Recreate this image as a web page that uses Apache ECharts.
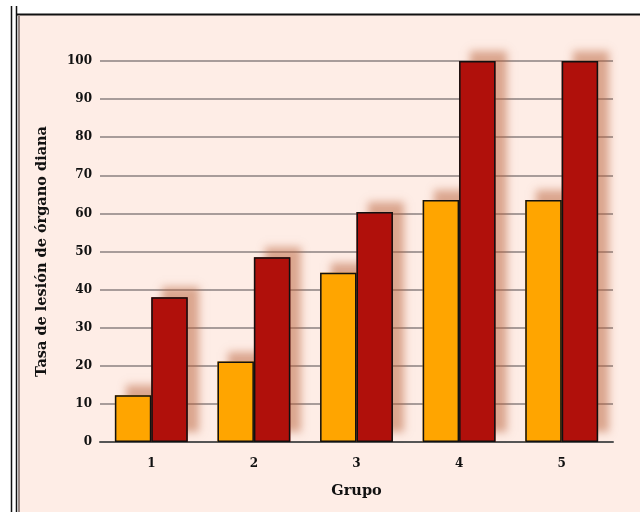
<!DOCTYPE html>
<html>
<head>
<meta charset="utf-8">
<script src="https://cdn.jsdelivr.net/npm/echarts@6/dist/echarts.min.js"></script>
<style>
html,body{margin:0;padding:0;background:#fff;}
#c{width:640px;height:512px;}
</style>
</head>
<body>
<div id="c"></div>
<script>
var categories = ['1', '2', '3', '4', '5'];
var serieA = [12.3, 21.1, 44.4, 63.5, 63.5];
var serieB = [38.0, 48.5, 60.4, 100, 100];
var yTitle = 'Tasa de lesión de órgano diana';
var xTitle = 'Grupo';

var FONT = '"DejaVu Serif", serif';
var chart = echarts.init(document.getElementById('c'));
var shadow = {shadowBlur: 8, shadowOffsetX: 11, shadowOffsetY: -10, shadowColor: 'rgba(185,95,55,0.5)'};
function barSeries(data, color, axisIdx, withShadow) {
  var st = {color: color};
  if (withShadow) { Object.assign(st, shadow); st.borderWidth = 0; }
  else { st.borderColor = '#111'; st.borderWidth = 1.5; }
  return {type: 'bar', data: data, xAxisIndex: axisIdx, barGap: '0%', barCategoryGap: '29%',
    silent: withShadow, itemStyle: st};
}
chart.setOption({
  backgroundColor: '#feede6',
  animation: false,
  graphic: [
    {type: 'rect', shape: {x: 0, y: 0, width: 18, height: 512}, style: {fill: '#fff'}, silent: true},
    {type: 'rect', shape: {x: 0, y: 0, width: 640, height: 14}, style: {fill: '#fff'}, silent: true},
    {type: 'line', shape: {x1: 11.5, y1: 6, x2: 11.5, y2: 512}, style: {stroke: '#111', lineWidth: 1.5}, silent: true},
    {type: 'line', shape: {x1: 16.5, y1: 6, x2: 16.5, y2: 512}, style: {stroke: '#111', lineWidth: 1.5}, silent: true},
    {type: 'line', shape: {x1: 17, y1: 14.5, x2: 640, y2: 14.5}, style: {stroke: '#111', lineWidth: 2}, silent: true},
    {type: 'line', shape: {x1: 19, y1: 15, x2: 19, y2: 512}, style: {stroke: '#9a8a86', lineWidth: 2}, silent: true}
  ],
  grid: {left: 100, right: 27, top: 61, bottom: 70},
  xAxis: [{
    type: 'category',
    data: categories,
    name: xTitle,
    nameLocation: 'middle',
    nameGap: 42,
    nameTextStyle: {fontFamily: FONT, fontWeight: 'bold', fontSize: 14.5, color: '#111'},
    axisLine: {lineStyle: {color: '#555', width: 2}},
    axisTick: {show: false},
    axisLabel: {fontFamily: FONT, fontWeight: 'bold', fontSize: 12, color: '#111', margin: 16}
  }, {
    type: 'category',
    data: categories,
    position: 'bottom',
    show: false
  }],
  yAxis: {
    type: 'value',
    min: 0, max: 100, interval: 10,
    name: yTitle,
    nameLocation: 'middle',
    nameGap: 50,
    nameRotate: 90,
    nameTextStyle: {fontFamily: FONT, fontWeight: 'bold', fontSize: 14.5, color: '#111'},
    axisLine: {show: false},
    axisTick: {show: false},
    axisLabel: {fontFamily: FONT, fontWeight: 'bold', fontSize: 12, color: '#111', margin: 8},
    splitLine: {lineStyle: {color: '#a89c9a', width: 2}}
  },
  series: [
    barSeries(serieA, '#ffa500', 1, true),
    barSeries(serieB, '#b0100b', 1, true),
    barSeries(serieA, '#ffa500', 0, false),
    barSeries(serieB, '#b0100b', 0, false)
  ]
});
</script>
</body>
</html>
